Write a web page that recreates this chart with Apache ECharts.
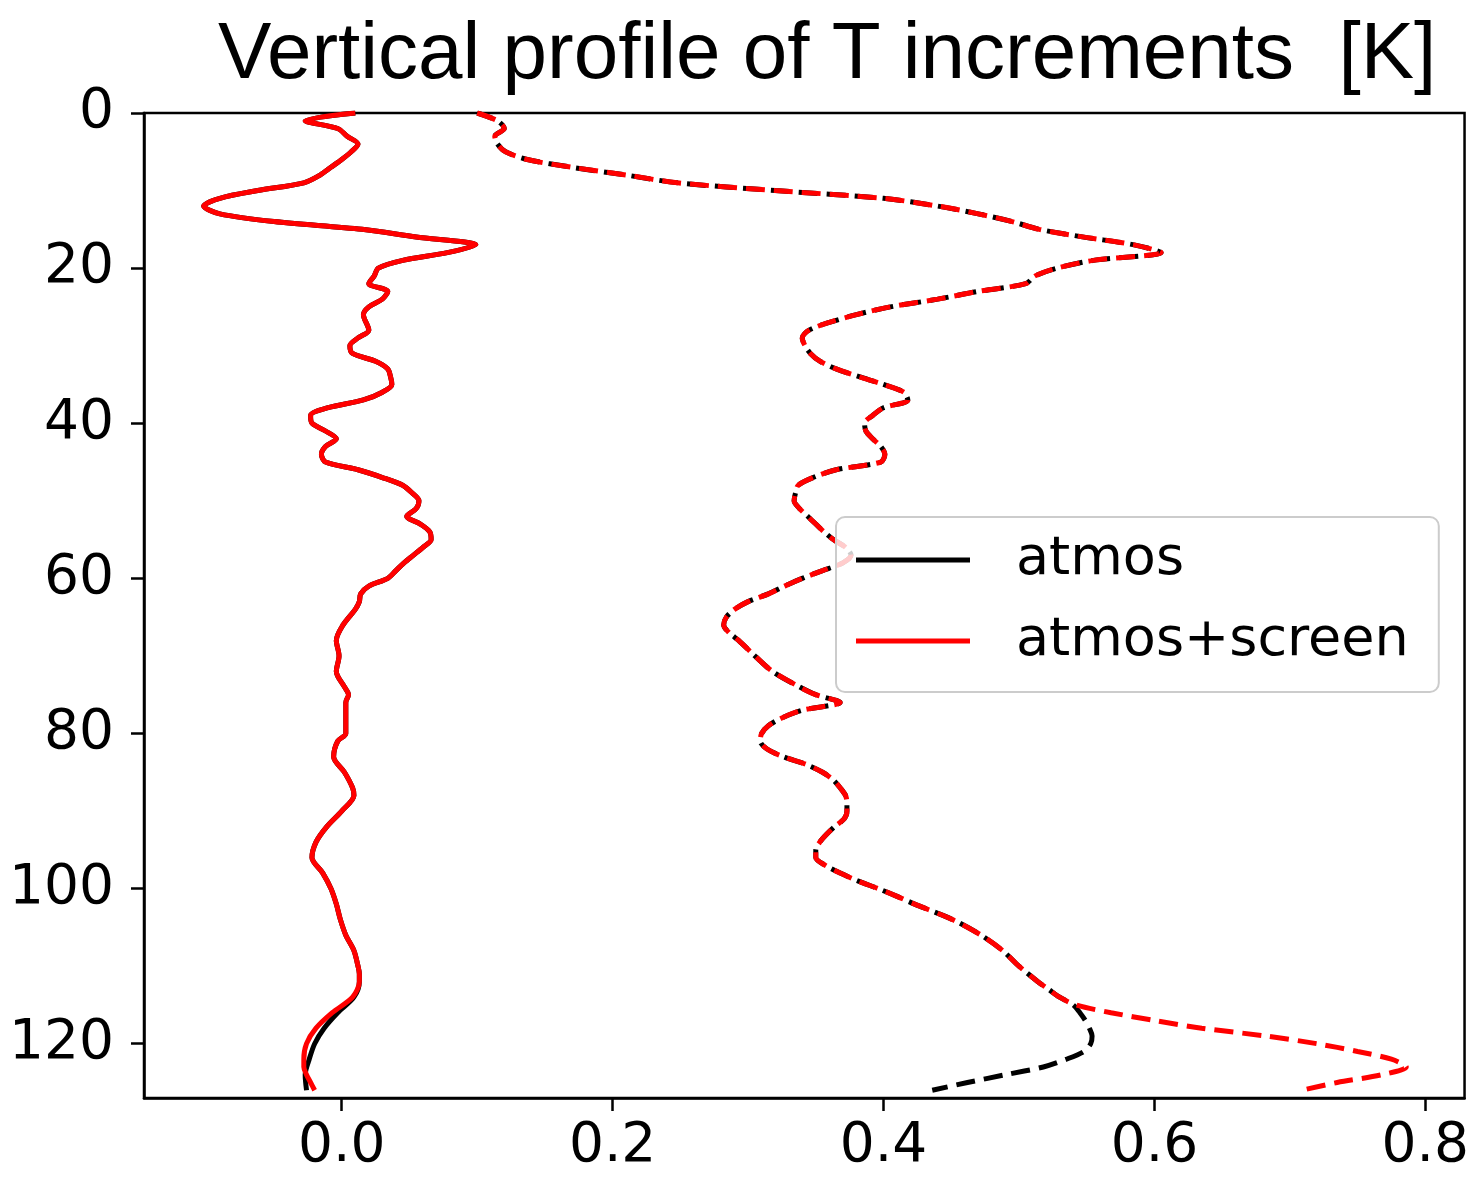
<!DOCTYPE html>
<html>
<head>
<meta charset="utf-8">
<script src="https://cdn.jsdelivr.net/npm/echarts@6/dist/echarts.min.js"></script>
<style>
html,body{margin:0;padding:0;background:#fff;}
#chart{width:1472px;height:1182px;}
</style>
</head>
<body>
<div id="chart"></div>
<script>
// ---- data (model level vs increment statistic, K) ----
const titleText = 'Vertical profile of T increments  [K]';
const xTicks = [0, 0.2, 0.4, 0.6, 0.8];
const yTicks = [0, 20, 40, 60, 80, 100, 120];

// mean increment: shared part (atmos and atmos+screen coincide)
const meanUpperLevels = [0,1,2,3,4,5,6,7,8,9,10,11,12,13,14,15,16,17,18,19,20,21,22,23,24,25,26,28,29,30,31,32,33,34,35,36,37,38,39,40,41,42,43,44,45,46,47,48,49,50,51,52,53,54,55,56,57,58,59,60,61,62,63,64,66,68,70,72,74,75,76,78,80,81,83,85,87,88,90,92,94,96,98,100,102,104,106,108,110,111,112];
const meanUpper = [0.010,-0.027,-0.003,0.004,0.012,0.007,0.000,-0.008,-0.016,-0.028,-0.062,-0.090,-0.102,-0.090,-0.050,0.015,0.055,0.099,0.078,0.045,0.027,0.024,0.020,0.034,0.030,0.020,0.016,0.020,0.012,0.006,0.008,0.025,0.034,0.036,0.037,0.030,0.016,-0.010,-0.023,-0.022,-0.012,-0.004,-0.012,-0.015,-0.012,0.012,0.030,0.045,0.052,0.057,0.055,0.048,0.058,0.065,0.066,0.060,0.053,0.046,0.040,0.034,0.020,0.014,0.013,0.010,0.001,-0.004,-0.002,-0.004,0.002,0.005,0.003,0.003,0.003,-0.003,-0.006,0.002,0.008,0.009,0.000,-0.011,-0.019,-0.022,-0.014,-0.008,-0.004,-0.001,0.003,0.009,0.012,0.013,0.013];
const meanScreenLowerLevels = [114,116,118,120,122,123,124,125,126];
const meanScreenLower = [0.008,-0.007,-0.019,-0.026,-0.028,-0.028,-0.026,-0.023,-0.020];
const meanAtmosLowerLevels = [114,116,118,120,122,124,126];
const meanAtmosLower = [0.009,-0.003,-0.013,-0.020,-0.024,-0.027,-0.026];

// standard deviation of increment: shared part
const stdUpperLevels = [0,1,2,3,4,5,6,7,8,9,10,11,12,13,14,15,16,17,18,19,20,21,22,23,24,25,26,27,28,29,30,31,32,33,34,35,36,37,38,39,40,41,42,43,44,45,46,47,48,49,50,51,52,53,54,55,56,57,58,59,60,61,62,63,64,65,66,67,68,70,72,74,75,76,77,78,79,80,81,82,83,84,85,86,87,88,89,90,91,92,93,94,95,96,97,98,99,100,101,102,104,106,108,110,112,113];
const stdUpper = [0.100,0.115,0.120,0.113,0.115,0.121,0.137,0.170,0.210,0.248,0.320,0.400,0.440,0.470,0.495,0.515,0.548,0.585,0.605,0.555,0.528,0.512,0.505,0.470,0.440,0.405,0.380,0.360,0.345,0.340,0.342,0.346,0.353,0.365,0.382,0.400,0.415,0.418,0.400,0.392,0.386,0.387,0.392,0.398,0.401,0.398,0.365,0.348,0.337,0.335,0.334,0.338,0.344,0.350,0.356,0.363,0.372,0.376,0.370,0.355,0.340,0.327,0.315,0.300,0.290,0.284,0.282,0.286,0.293,0.305,0.318,0.338,0.350,0.368,0.340,0.325,0.315,0.310,0.309,0.314,0.326,0.343,0.355,0.363,0.368,0.372,0.373,0.373,0.371,0.364,0.358,0.353,0.350,0.350,0.357,0.368,0.381,0.396,0.410,0.423,0.451,0.472,0.488,0.500,0.514,0.522];
const stdScreenLowerLevels = [114,115,116,117,118,119,120,121,122,123,124,125,126];
const stdScreenLower = [0.530,0.542,0.568,0.600,0.635,0.682,0.720,0.750,0.775,0.786,0.768,0.735,0.709];
const stdAtmosLowerLevels = [114,115,116,117,118,119,120,121,122,123,124,125,126];
const stdAtmosLower = [0.530,0.540,0.545,0.549,0.552,0.554,0.553,0.548,0.535,0.518,0.490,0.462,0.436];

function pairs(levels, values) { return levels.map((l, i) => [values[i], l]); }
const meanAtmos = pairs(meanUpperLevels, meanUpper).concat(pairs(meanAtmosLowerLevels, meanAtmosLower));
const meanScreen = pairs(meanUpperLevels, meanUpper).concat(pairs(meanScreenLowerLevels, meanScreenLower));
const stdAtmos = pairs(stdUpperLevels, stdUpper).concat(pairs(stdAtmosLowerLevels, stdAtmosLower));
const stdScreen = pairs(stdUpperLevels, stdUpper).concat(pairs(stdScreenLowerLevels, stdScreenLower));

const FONT = 'DejaVu Sans';
const LW = 5;
const chart = echarts.init(document.getElementById('chart'), null, {renderer: 'canvas'});
chart.setOption({
  animation: false,
  backgroundColor: '#ffffff',
  title: {
    text: titleText,
    left: 213, top: 11,
    textStyle: {fontFamily: 'Liberation Sans', fontSize: 80, fontWeight: 'normal', color: '#000'}
  },
  grid: {
    left: 144, right: 6, top: 113, bottom: 84,
    show: true, borderColor: '#000', borderWidth: 2.5, backgroundColor: 'transparent'
  },
  legend: {
    data: ['atmos', 'atmos+screen'],
    orient: 'vertical',
    left: 836, top: 517,
    padding: [16, 30, 24, 20],
    icon: 'rect',
    itemWidth: 114, itemHeight: 5, itemGap: 27,
    backgroundColor: 'rgba(255,255,255,0.8)',
    borderColor: '#cccccc', borderWidth: 2, borderRadius: 9,
    textStyle: {fontFamily: FONT, fontSize: 54, color: '#000', padding: [0, 0, 0, 41], lineHeight: 54}
  },
  xAxis: {
    type: 'value', min: -0.146, max: 0.829,
    splitLine: {show: false},
    axisLine: {show: true, onZero: false, lineStyle: {color: '#000', width: 2.5}},
    axisTick: {show: true, length: 13, lineStyle: {color: '#000', width: 2.5}, customValues: xTicks},
    axisLabel: {customValues: xTicks, margin: 21, color: '#000', fontFamily: FONT, fontSize: 55,
      formatter: v => v.toFixed(1)}
  },
  yAxis: {
    type: 'value', min: 0, max: 127, inverse: true,
    splitLine: {show: false},
    axisLine: {show: true, onZero: false, lineStyle: {color: '#000', width: 2.5}},
    axisTick: {show: true, length: 13, lineStyle: {color: '#000', width: 2.5}, customValues: yTicks},
    axisLabel: {customValues: yTicks, margin: 30, color: '#000', fontFamily: FONT, fontSize: 55}
  },
  series: [
    {name: 'atmos', type: 'line', data: meanAtmos, symbol: 'none', smooth: 0.3, z: 2,
      lineStyle: {color: '#000', width: LW}, itemStyle: {color: '#000'}},
    {name: 'atmos std', type: 'line', data: stdAtmos, symbol: 'none', smooth: 0.3, z: 2,
      lineStyle: {color: '#000', width: LW, type: [19, 9], dashOffset: 3}, itemStyle: {color: '#000'}},
    {name: 'atmos+screen', type: 'line', data: meanScreen, symbol: 'none', smooth: 0.3, z: 3,
      lineStyle: {color: '#ff0000', width: LW}, itemStyle: {color: '#ff0000'}},
    {name: 'atmos+screen std', type: 'line', data: stdScreen, symbol: 'none', smooth: 0.3, z: 3,
      lineStyle: {color: '#ff0000', width: LW, type: [19, 9]}, itemStyle: {color: '#ff0000'}}
  ]
});
</script>
</body>
</html>
